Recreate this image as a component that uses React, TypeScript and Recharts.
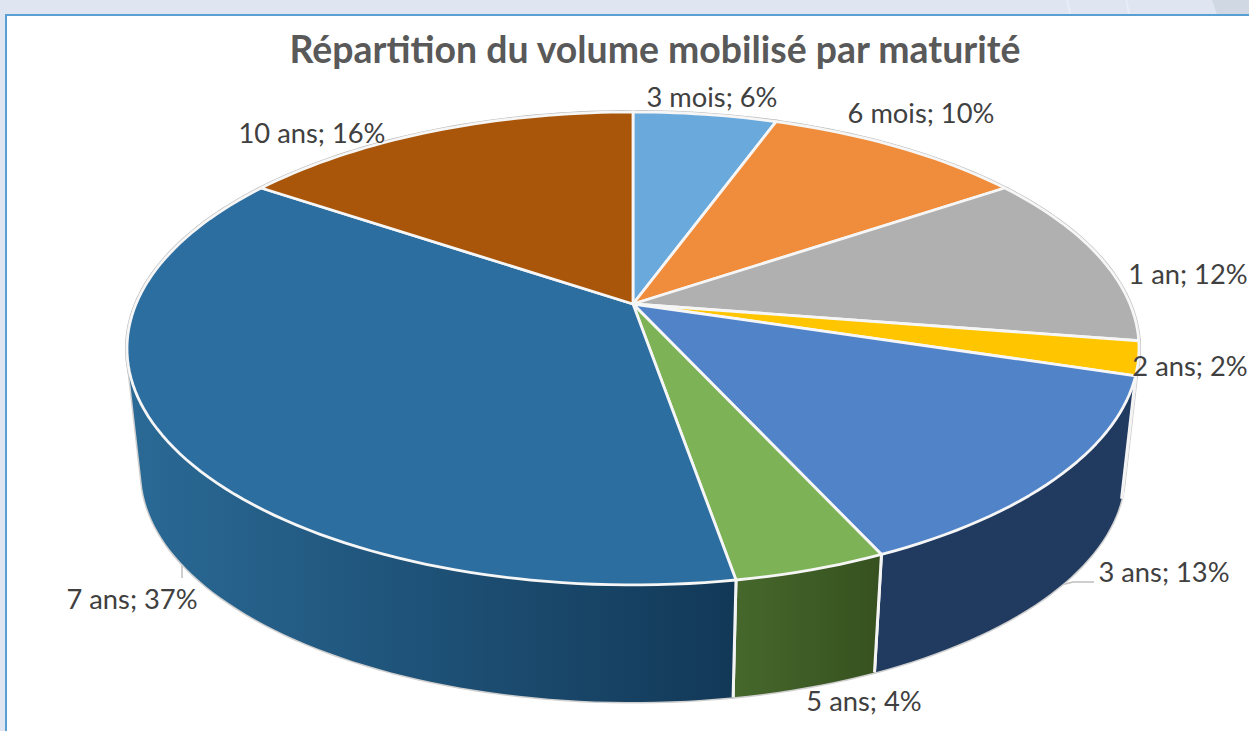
import { PieChart, Pie } from "recharts";

const categories = ["3 mois", "6 mois", "1 an", "2 ans", "3 ans", "5 ans", "7 ans", "10 ans"];
// shares, they round to the printed labels
const shares = [5.5, 10, 12, 2.3, 13.4, 4.1, 37.2, 15.5];

const topColors = ["#6aa9dc", "#ef8d3c", "#b0b0b0", "#ffc600", "#5183c9", "#7db356", "#2c6ea0", "#a9560a"];
const wallLeft = ["#3d6f9f", "#a35f25", "#ececec", "#f2f2f2", "#203a60", "#46682c", "#2a6a96", "#6f3a08"];
const wallRight = ["#3d6f9f", "#a35f25", "#ececec", "#f2f2f2", "#203a60", "#36511f", "#123857", "#6f3a08"];

// label anchors (centre x, baseline y), same order as categories
const labelSpots = [
  [712, 107],
  [921, 123],
  [1188, 284],
  [1190, 376],
  [1164, 582],
  [864, 711],
  [132, 609],
  [312, 143],
];

const chartData = categories.map((name, i) => ({
  name,
  value: shares[i],
  label: `${name}; ${Math.round(shares[i])}%`,
}));

const FONT = "Lato, 'Open Sans', sans-serif";
const TILT = 0.459; // vertical squash of the disc
const PERSP = 0.188; // front of the disc is nearer than the back
const SHRINK = 0.972; // bottom face is a bit smaller
const DEPTH = 125;

type Pt = [number, number];

function topPoint(cx: number, cy: number, r: number, deg: number): Pt {
  const rad = (deg * Math.PI) / 180;
  const x = Math.cos(rad);
  const y = -Math.sin(rad);
  const w = 1 - PERSP * y;
  return [cx + (r * x) / w, cy + (r * TILT * y) / w];
}

function bottomPoint(cx: number, cy: number, r: number, deg: number): Pt {
  const [x, y] = topPoint(cx, cy, r, deg);
  return [cx + SHRINK * (x - cx), cy + SHRINK * (y - cy) + DEPTH];
}

function arcAngles(start: number, end: number): number[] {
  const steps = Math.max(2, Math.ceil(Math.abs(end - start) / 1.5));
  return Array.from({ length: steps + 1 }, (_, i) => start + ((end - start) * i) / steps);
}

const fmt = (p: Pt) => `${p[0].toFixed(2)} ${p[1].toFixed(2)}`;

function wallPath(p: any): string {
  const angles = arcAngles(p.startAngle, p.endAngle);
  let d = "";
  for (let i = 0; i < angles.length - 1; i++) {
    const a = topPoint(p.cx, p.cy, p.outerRadius, angles[i]);
    const b = topPoint(p.cx, p.cy, p.outerRadius, angles[i + 1]);
    const c = bottomPoint(p.cx, p.cy, p.outerRadius, angles[i + 1]);
    const e = bottomPoint(p.cx, p.cy, p.outerRadius, angles[i]);
    const quad = [a, b, c, e];
    // same winding everywhere, so overlapping quads stay filled
    const area = quad.reduce((s, q, j) => {
      const n = quad[(j + 1) % 4];
      return s + q[0] * n[1] - n[0] * q[1];
    }, 0);
    const ordered = area < 0 ? [...quad].reverse() : quad;
    d += `M${ordered.map(fmt).join("L")}Z`;
  }
  return d;
}

function topPath(p: any): string {
  const arc = arcAngles(p.startAngle, p.endAngle).map((a) => fmt(topPoint(p.cx, p.cy, p.outerRadius, a)));
  return `M${p.cx} ${p.cy}L${arc.join("L")}Z`;
}

// grey rim behind everything
function RimShape(p: any) {
  return (
    <g>
      <path d={wallPath(p)} fill="#cfcfcf" stroke="#cfcfcf" strokeWidth={3} />
      <path d={topPath(p)} fill="#bdbdbd" stroke="#bdbdbd" strokeWidth={4} />
    </g>
  );
}

function WallShape(p: any) {
  const i = p.index ?? categories.indexOf(p.name);
  const angles = arcAngles(p.startAngle, p.endAngle);
  const xs = angles.flatMap((a) => [
    topPoint(p.cx, p.cy, p.outerRadius, a)[0],
    bottomPoint(p.cx, p.cy, p.outerRadius, a)[0],
  ]);
  const edge = (a: number) => (
    <line
      x1={topPoint(p.cx, p.cy, p.outerRadius, a)[0]}
      y1={topPoint(p.cx, p.cy, p.outerRadius, a)[1]}
      x2={bottomPoint(p.cx, p.cy, p.outerRadius, a)[0]}
      y2={bottomPoint(p.cx, p.cy, p.outerRadius, a)[1]}
      stroke="#f4f4f4"
      strokeWidth={3}
    />
  );
  return (
    <g>
      <defs>
        <linearGradient id={`wall-${i}`} gradientUnits="userSpaceOnUse" x1={Math.min(...xs)} x2={Math.max(...xs)} y1={0} y2={0}>
          <stop offset="0" stopColor={wallLeft[i]} />
          <stop offset="1" stopColor={wallRight[i]} />
        </linearGradient>
      </defs>
      <path d={wallPath(p)} fill={`url(#wall-${i})`} />
      {edge(p.startAngle)}
      {edge(p.endAngle)}
    </g>
  );
}

function TopShape(p: any) {
  const i = p.index ?? categories.indexOf(p.name);
  return <path d={topPath(p)} fill={topColors[i]} stroke="#f6f6f6" strokeWidth={2.8} strokeLinejoin="round" />;
}

function SliceLabel(p: any) {
  const [x, y] = labelSpots[p.index];
  return (
    <text x={x} y={y} textAnchor="middle" fontFamily={FONT} fontSize={27.3} fill="#404040">
      {chartData[p.index].label}
    </text>
  );
}

const streak = (left: number, angle: number) => (
  <div style={{ position: "absolute", left, top: -4, width: 2, height: 26, background: "#e8eef7", transform: `rotate(${angle}deg)` }} />
);

export default function App() {
  return (
    <div style={{ position: "absolute", left: 0, top: 0, width: 1249, height: 731, overflow: "hidden", background: "#dfe6f1" }}>
      {streak(1068, -12)}
      {streak(1127, -10)}
      <div style={{ position: "absolute", left: 1212, top: 0, width: 40, height: 16, background: "#d0d8e4", clipPath: "polygon(0 0, 100% 0, 100% 100%, 14% 100%)" }} />
      <div style={{ position: "absolute", left: 5, top: 14, width: 1300, height: 800, background: "#fff", border: "2px solid #5a9fd4" }} />
      <div style={{ position: "absolute", left: 0, top: 0 }}>
        <PieChart width={1249} height={731} margin={{ top: 0, right: 0, bottom: 0, left: 0 }}>
          <text x={655} y={63} textAnchor="middle" fontFamily={FONT} fontWeight={700} fontSize={37.4} fill="#595959">
            Répartition du volume mobilisé par maturité
          </text>
          <Pie data={chartData} dataKey="value" nameKey="name" cx={633} cy={304} outerRadius={497} startAngle={90} endAngle={-270} stroke="none" shape={RimShape} isAnimationActive={false} />
          <Pie data={chartData} dataKey="value" nameKey="name" cx={633} cy={304} outerRadius={497} startAngle={90} endAngle={-270} stroke="none" shape={WallShape} isAnimationActive={false} />
          <Pie data={chartData} dataKey="value" nameKey="name" cx={633} cy={304} outerRadius={497} startAngle={90} endAngle={-270} stroke="none" shape={TopShape} label={SliceLabel} labelLine={false} isAnimationActive={false} />
          {/* leader lines of the two labels pushed off the disc */}
          <polyline points="182,552 182,578" fill="none" stroke="#bfbfbf" strokeWidth={1.5} />
          <polyline points="1045,589 1073,582 1094,582" fill="none" stroke="#bfbfbf" strokeWidth={1.5} />
        </PieChart>
      </div>
    </div>
  );
}
